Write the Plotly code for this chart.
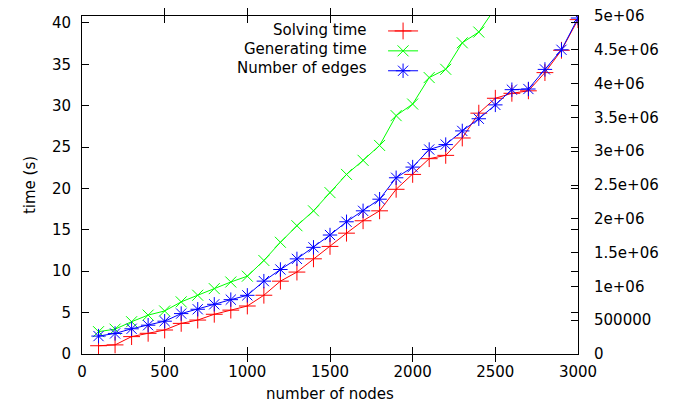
import plotly.graph_objects as go

# number of nodes
nodes = [100, 200, 300, 400, 500, 600, 700, 800, 900, 1000,
         1100, 1200, 1300, 1400, 1500, 1600, 1700, 1800, 1900, 2000,
         2100, 2200, 2300, 2400, 2500, 2600, 2700, 2800, 2900, 3000]

# solving time (s)
solving_time = [1.0, 1.1, 2.1, 2.5, 2.9, 3.7, 4.1, 4.8, 5.3, 5.8,
                7.1, 8.8, 9.9, 11.5, 13.0, 14.6, 16.1, 17.3, 19.9, 21.7,
                23.6, 24.0, 26.1, 29.1, 30.9, 31.5, 31.8, 34.0, 36.7, 40.4]

# generating time (s), leaves the plot after 2400
gen_nodes = nodes[:25]
generating_time = [2.7, 3.0, 3.9, 4.7, 5.2, 6.3, 7.1, 7.9, 8.7, 9.4,
                   11.3, 13.5, 15.5, 17.3, 19.5, 21.7, 23.4, 25.2, 28.8, 30.2,
                   33.4, 34.4, 37.6, 38.9, 41.8]

# number of edges (right axis)
edges = [265000, 304000, 373000, 426000, 485000, 598000, 662000, 735000, 804000, 868000,
         1078000, 1250000, 1407000, 1578000, 1760000, 1956000, 2118000, 2290000, 2607000, 2765000,
         3025000, 3098000, 3300000, 3480000, 3685000, 3910000, 3920000, 4210000, 4500000, 4970000]

series_names = ["Solving time", "Generating time", "Number of edges"]

y2_ticks = [0, 500000, 1000000, 1500000, 2000000, 2500000, 3000000, 3500000, 4000000, 4500000, 5000000]
y2_labels = ["0", "500000", "1e+06", "1.5e+06", "2e+06", "2.5e+06", "3e+06",
             "3.5e+06", "4e+06", "4.5e+06", "5e+06"]

FONT = "DejaVu Sans"
FS = 15
RED, GREEN, BLUE = "#ff0000", "#00ff00", "#0000ff"

fig = go.Figure()

fig.add_trace(go.Scatter(
    x=nodes, y=solving_time, mode="lines+markers", name="",
    line=dict(color=RED, width=1),
    marker=dict(symbol="cross-thin-open", size=12, line=dict(color=RED, width=1)),
))
fig.add_trace(go.Scatter(
    x=gen_nodes, y=generating_time, mode="lines+markers", name="",
    line=dict(color=GREEN, width=1),
    marker=dict(symbol="x-thin-open", size=11, line=dict(color=GREEN, width=1)),
))
fig.add_trace(go.Scatter(
    x=nodes, y=edges, mode="lines+markers", name="", yaxis="y2",
    line=dict(color=BLUE, width=1),
    marker=dict(symbol="asterisk-open", size=12, line=dict(color=BLUE, width=1)),
))

# legend text, right aligned to the left of the samples (gnuplot style)
legend_y = [0.959, 0.903, 0.847]
for name, yy in zip(series_names, legend_y):
    fig.add_annotation(text=name, xref="paper", yref="paper", x=0.579, y=yy,
                       xanchor="right", yanchor="middle", showarrow=False,
                       font=dict(family=FONT, size=FS, color="black"))

axis_common = dict(
    showgrid=False, zeroline=False, showline=True, linecolor="black", linewidth=1,
    ticks="inside", ticklen=7, tickcolor="black",
    tickfont=dict(family=FONT, size=FS, color="black"),
)

# page body adds an 8px margin, so the figure is sized and placed around it
fig.update_layout(
    width=679, height=402,
    paper_bgcolor="white", plot_bgcolor="white",
    margin=dict(l=74, r=109, t=6, b=56),
    font=dict(family=FONT, size=FS, color="black"),
    xaxis=dict(range=[0, 3000], dtick=500, mirror="allticks", ticklabelstandoff=4,
               title=dict(text="number of nodes", font=dict(family=FONT, size=FS), standoff=8),
               **axis_common),
    yaxis=dict(range=[0, 40.84], dtick=5, mirror="allticks", ticklabelstandoff=7,
               title=dict(text="time (s)", font=dict(family=FONT, size=FS), standoff=12),
               **axis_common),
    yaxis2=dict(range=[0, 5000000], overlaying="y", side="right", ticklabelstandoff=12,
                ticklabeloverflow="allow", automargin=False,
                tickvals=y2_ticks, ticktext=y2_labels, **axis_common),
    showlegend=True,
    legend=dict(x=0.607, y=1.0, xanchor="left", yanchor="top",
                bgcolor="rgba(0,0,0,0)", borderwidth=0,
                font=dict(family=FONT, size=13), tracegroupgap=0),
)

fig.write_html("out.html")
